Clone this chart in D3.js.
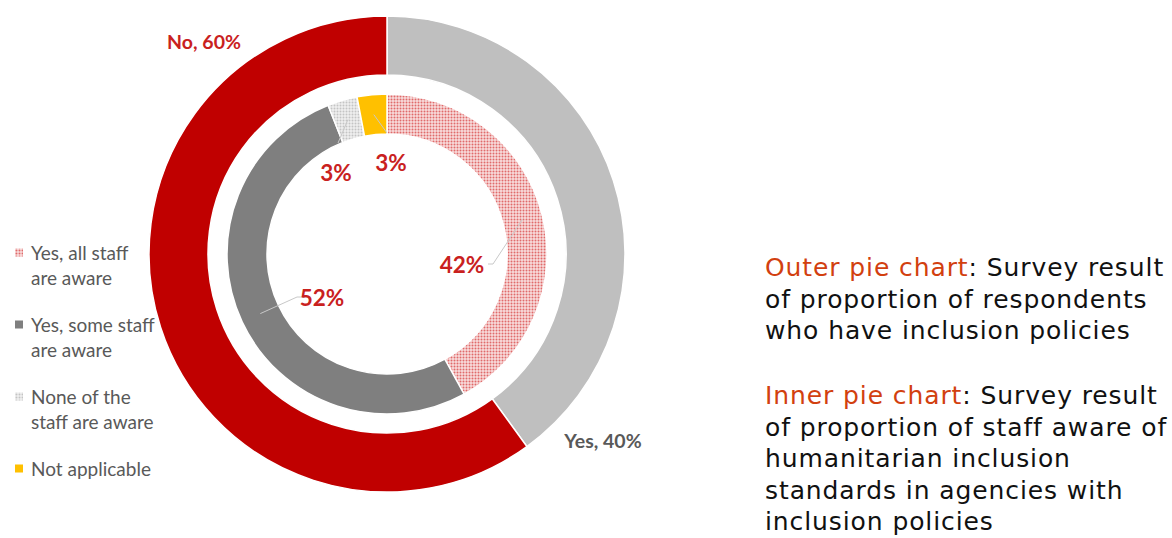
<!DOCTYPE html>
<html>
<head>
<meta charset="utf-8">
<script src="https://cdn.jsdelivr.net/npm/d3@7"></script>
<style>
  body { margin: 0; background: #fff; }
</style>
</head>
<body>
<div id="chart"></div>
<script>
// Outer ring: do respondents have inclusion policies
let outerCats = ["Yes", "No"];
let outerVals = [40, 60];

// Inner ring: staff awareness of inclusion standards
let innerCats = ["Yes, all staff are aware", "Yes, some staff are aware", "None of the staff are aware", "Not applicable"];
let innerVals = [42, 52, 3, 3];

// legend lines (wrapped like the original)
let legendLines = [["Yes, all staff", "are aware"], ["Yes, some staff", "are aware"], ["None of the", "staff are aware"], ["Not applicable"]];

// right side notes
let noteBlocks = [
  { head: "Outer pie chart", lines: [": Survey result", "of proportion of respondents", "who have inclusion policies"] },
  { head: "Inner pie chart", lines: [": Survey result", "of proportion of staff aware of", "humanitarian inclusion", "standards in agencies with", "inclusion policies"] }
];

let svgWidth = 1172;
let svgHeight = 538;
let cx = 387, cy = 254;

let svg = d3.select("#chart")
  .append("svg")
  .attr("width", svgWidth)
  .attr("height", svgHeight);

// patterns for the dotted fills
let defs = svg.append("defs");
function dotPattern(id, bg, col) {
  let p = defs.append("pattern")
    .attr("id", id)
    .attr("x", 0).attr("y", 0)
    .attr("width", 3).attr("height", 3)
    .attr("patternUnits", "userSpaceOnUse");
  p.append("rect").attr("width", 3).attr("height", 3).attr("fill", bg);
  p.append("circle").attr("cx", 1.5).attr("cy", 1.5).attr("r", 1).attr("fill", col);
}
dotPattern("dotRed", "#f8dcdc", "#e06a6a");
dotPattern("dotGray", "#f0f0f0", "#c4c4c4");

let outerColor = d3.scaleOrdinal().domain(outerCats).range(["#bfbfbf", "#c00000"]);
let innerColor = d3.scaleOrdinal().domain(innerCats)
  .range(["url(#dotRed)", "#7f7f7f", "url(#dotGray)", "#ffc000"]);

let labelFont = "Lato, 'Open Sans', sans-serif";

// legend (drawn first, the ring overlaps it a little)
let legendY = d3.scalePoint().domain(innerCats).range([253, 469]);
let legend = svg.append("g")
  .attr("font-family", labelFont)
  .attr("font-size", 19)
  .attr("fill", "#595959");
innerCats.forEach((c, i) => {
  let y = legendY(c);
  legend.append("rect")
    .attr("x", 15).attr("y", y - 4.5)
    .attr("width", 8).attr("height", 8)
    .attr("fill", innerColor(c));
  legendLines[i].forEach((t, j) => {
    legend.append("text")
      .attr("x", 31).attr("y", y + 7 + j * 25)
      .text(t);
  });
});

let pie = d3.pie().sort(null).value(d => d);

let outerArc = d3.arc().innerRadius(179).outerRadius(238);
let innerArc = d3.arc().innerRadius(120).outerRadius(160);

let rings = svg.append("g").attr("transform", `translate(${cx},${cy})`);

rings.selectAll("path.outer")
  .data(pie(outerVals))
  .enter()
  .append("path")
  .attr("class", "outer")
  .attr("d", outerArc)
  .attr("fill", (d, i) => outerColor(outerCats[i]))
  .attr("stroke", "#fff")
  .attr("stroke-width", 1.5);

let innerPie = pie(innerVals);
rings.selectAll("path.inner")
  .data(innerPie)
  .enter()
  .append("path")
  .attr("class", "inner")
  .attr("d", innerArc)
  .attr("fill", (d, i) => innerColor(innerCats[i]))
  .attr("stroke", "#fff")
  .attr("stroke-width", 1.5);

// outer labels
let outerLabelPos = [[216, 194], [-183, -205]];
rings.selectAll("text.outer")
  .data(pie(outerVals))
  .enter()
  .append("text")
  .attr("x", (d, i) => outerLabelPos[i][0])
  .attr("y", (d, i) => outerLabelPos[i][1])
  .attr("text-anchor", "middle")
  .attr("font-family", labelFont)
  .attr("font-weight", "bold")
  .attr("font-size", 19.5)
  .attr("fill", (d, i) => i === 0 ? "#595959" : "#c9211e")
  .text((d, i) => `${outerCats[i]}, ${d.value}%`);

// inner labels with leader lines from slice centroid
// [label x, label y, bend x, bend y] relative to the centre
let innerLabelPos = [[75, 11, 106, 10], [-65, 44, -90, 43], [-51, -81, -49, -111], [4, -91, 0, -121]];
let leaderArc = d3.arc().innerRadius(140).outerRadius(140);

rings.selectAll("path.leader")
  .data(innerPie)
  .enter()
  .append("path")
  .attr("class", "leader")
  .attr("d", (d, i) => {
    let c = leaderArc.centroid(d);
    let p = innerLabelPos[i];
    return d3.line()([c, [p[2], p[3]], i < 2 ? [p[2] + (i === 0 ? -5 : 10), p[3]] : [p[2], p[3]]]);
  })
  .attr("fill", "none")
  .attr("stroke", "#c8c8c8")
  .attr("stroke-width", 1);

rings.selectAll("text.inner")
  .data(innerPie)
  .enter()
  .append("text")
  .attr("x", (d, i) => innerLabelPos[i][0])
  .attr("y", (d, i) => innerLabelPos[i][1])
  .attr("dy", "0.35em")
  .attr("text-anchor", "middle")
  .attr("font-family", labelFont)
  .attr("font-weight", "bold")
  .attr("font-size", 22.5)
  .attr("fill", "#c9211e")
  .text(d => d.value + "%");

// notes on the right
let notes = svg.append("g")
  .attr("font-family", "'DejaVu Sans', Verdana, sans-serif")
  .attr("font-size", 25)
  .attr("letter-spacing", 0.9)
  .attr("fill", "#111");
let blockTop = [276, 404];
noteBlocks.forEach((b, k) => {
  b.lines.forEach((l, j) => {
    let t = notes.append("text")
      .attr("x", 765)
      .attr("y", blockTop[k] + j * 31.6);
    if (j === 0) {
      t.append("tspan").attr("fill", "#d2400f").text(b.head);
    }
    t.append("tspan").text(l);
  });
});
</script>
</body>
</html>
